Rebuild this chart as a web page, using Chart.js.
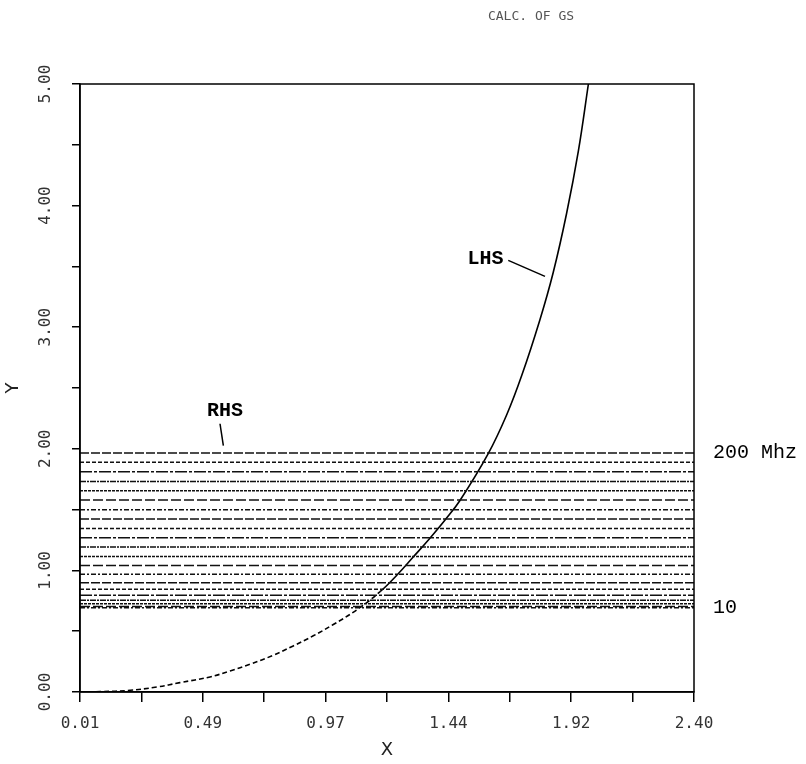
<!DOCTYPE html>
<html>
<head>
<meta charset="utf-8">
<script src="https://cdn.jsdelivr.net/npm/chart.js@4/dist/chart.umd.min.js"></script>
<style>
  body { margin: 0; background: #fff; }
  canvas { display: block; }
</style>
</head>
<body>
<canvas id="myChart" width="806" height="764"></canvas>
<script>
// data
const xTickValues = [0.01, 0.249, 0.488, 0.727, 0.966, 1.205, 1.444, 1.683, 1.922, 2.161, 2.40];
const xTickLabels = ["0.01", "", "0.49", "", "0.97", "", "1.44", "", "1.92", "", "2.40"];
const yTickValues = [0, 0.5, 1, 1.5, 2, 2.5, 3, 3.5, 4, 4.5, 5];
const yTickLabels = ["0.00", "", "1.00", "", "2.00", "", "3.00", "", "4.00", "", "5.00"];

// LHS curve
const lhsX = [0.01, 0.088, 0.205, 0.309, 0.399, 0.516, 0.594, 0.672, 0.762, 0.840, 0.918, 0.996, 1.087, 1.178, 1.243, 1.307, 1.372, 1.431, 1.489, 1.599, 1.671, 1.729, 1.800, 1.852, 1.904, 1.950, 1.989];
const lhsY = [0, 0.003, 0.014, 0.041, 0.077, 0.124, 0.173, 0.228, 0.302, 0.379, 0.462, 0.555, 0.675, 0.825, 0.960, 1.110, 1.265, 1.415, 1.575, 1.960, 2.28, 2.60, 3.06, 3.45, 3.935, 4.45, 5.0];

// RHS levels, 200 Mhz at top down to 10 at bottom
const rhsLevels = [1.965, 1.889, 1.812, 1.732, 1.656, 1.579, 1.499, 1.423, 1.345, 1.269, 1.192, 1.115, 1.040, 0.968, 0.898, 0.844, 0.795, 0.754, 0.725, 0.704, 0.692];

// label anchors [x, y]
const rhsNote = [0.574, 2.315];
const rhsPointer = [[0.555, 2.206], [0.568, 2.026]];
const lhsNote = [1.588, 3.563];
const lhsPointer = [[1.677, 3.550], [1.820, 3.418]];

const dashes = [[9, 2], [4, 2], [12, 2, 3, 2], [6, 1, 2, 1], [3, 1], [10, 3], [5, 2, 2, 2]];

const datasets = [];
rhsLevels.forEach((v, i) => {
  datasets.push({
    data: [{ x: xTickValues[0], y: v }, { x: xTickValues[xTickValues.length - 1], y: v }],
    borderColor: "#111",
    borderWidth: 1.5,
    borderDash: dashes[i % dashes.length],
    pointRadius: 0,
  });
});
datasets.push({
  data: lhsX.map((x, i) => ({ x: x, y: lhsY[i] })),
  borderColor: "#000",
  borderWidth: 1.6,
  pointRadius: 0,
  tension: 0.4,
  segment: {
    borderDash: (ctx) => (ctx.p1.parsed.y < 0.9 ? [5, 3] : undefined),
  },
});
[rhsPointer, lhsPointer].forEach((p) => {
  datasets.push({
    data: p.map((q) => ({ x: q[0], y: q[1] })),
    borderColor: "#000",
    borderWidth: 1.5,
    pointRadius: 0,
  });
});

const textPlugin = {
  id: "textPlugin",
  afterDraw(chart) {
    const { ctx, chartArea: a, scales } = chart;
    const x = scales.x, y = scales.y;
    ctx.save();
    ctx.strokeStyle = "#000";
    ctx.lineWidth = 1.5;
    ctx.strokeRect(a.left, a.top, a.right - a.left, a.bottom - a.top);

    // y tick labels, rotated
    ctx.font = '16px "DejaVu Sans Mono"';
    ctx.fillStyle = "#333";
    ctx.textAlign = "center";
    ctx.textBaseline = "middle";
    yTickValues.forEach((v, i) => {
      if (!yTickLabels[i]) return;
      ctx.save();
      ctx.translate(46, y.getPixelForValue(v));
      ctx.rotate(-Math.PI / 2);
      ctx.fillText(yTickLabels[i], 0, 0);
      ctx.restore();
    });

    // title
    ctx.font = '13px "DejaVu Sans Mono"';
    ctx.fillStyle = "#555";
    ctx.fillText("CALC. OF GS", 531, 17);

    // notes
    ctx.font = 'bold 20px "Liberation Mono"';
    ctx.fillStyle = "#000";
    ctx.fillText("RHS", x.getPixelForValue(rhsNote[0]), y.getPixelForValue(rhsNote[1]));
    ctx.fillText("LHS", x.getPixelForValue(lhsNote[0]), y.getPixelForValue(lhsNote[1]));

    ctx.font = '20px "Liberation Mono"';
    ctx.textAlign = "left";
    ctx.fillText("200 Mhz", a.right + 19, y.getPixelForValue(rhsLevels[0]));
    ctx.fillText("10", a.right + 19, y.getPixelForValue(rhsLevels[rhsLevels.length - 1]));
    ctx.restore();
  },
};

const config = {
  type: "line",
  data: { datasets },
  plugins: [textPlugin],
  options: {
    responsive: false,
    devicePixelRatio: 1,
    animation: false,
    layout: { padding: { top: 84, right: 112, left: 0, bottom: 0 } },
    plugins: { legend: { display: false }, tooltip: { enabled: false } },
    scales: {
      x: {
        type: "linear",
        min: 0.01,
        max: 2.4,
        afterBuildTicks: (s) => { s.ticks = xTickValues.map((v) => ({ value: v })); },
        afterFit: (s) => { s.height = 72; },
        grid: { drawOnChartArea: false, drawTicks: true, tickLength: 10, color: "#000", lineWidth: 1.5 },
        border: { display: true, color: "#000", width: 1.5 },
        ticks: {
          autoSkip: false,
          maxRotation: 0,
          padding: 12,
          color: "#333",
          font: { family: "DejaVu Sans Mono", size: 16 },
          callback: (value, index) => xTickLabels[index],
        },
        title: {
          display: true,
          text: "X",
          color: "#222",
          font: { family: "DejaVu Sans", size: 18 },
          padding: { top: 0, bottom: 3 },
        },
      },
      y: {
        type: "linear",
        min: 0,
        max: 5,
        afterBuildTicks: (s) => { s.ticks = yTickValues.map((v) => ({ value: v })); },
        afterFit: (s) => { s.width = 80; },
        grid: { drawOnChartArea: false, drawTicks: true, tickLength: 8, color: "#000", lineWidth: 1.5 },
        border: { display: true, color: "#000", width: 1.5 },
        ticks: { display: false },
        title: {
          display: true,
          text: "Y",
          color: "#222",
          font: { family: "DejaVu Sans", size: 18 },
          padding: { top: 3, bottom: 0 },
        },
      },
    },
  },
};

const myChart = new Chart(document.getElementById("myChart"), config);
</script>
</body>
</html>
